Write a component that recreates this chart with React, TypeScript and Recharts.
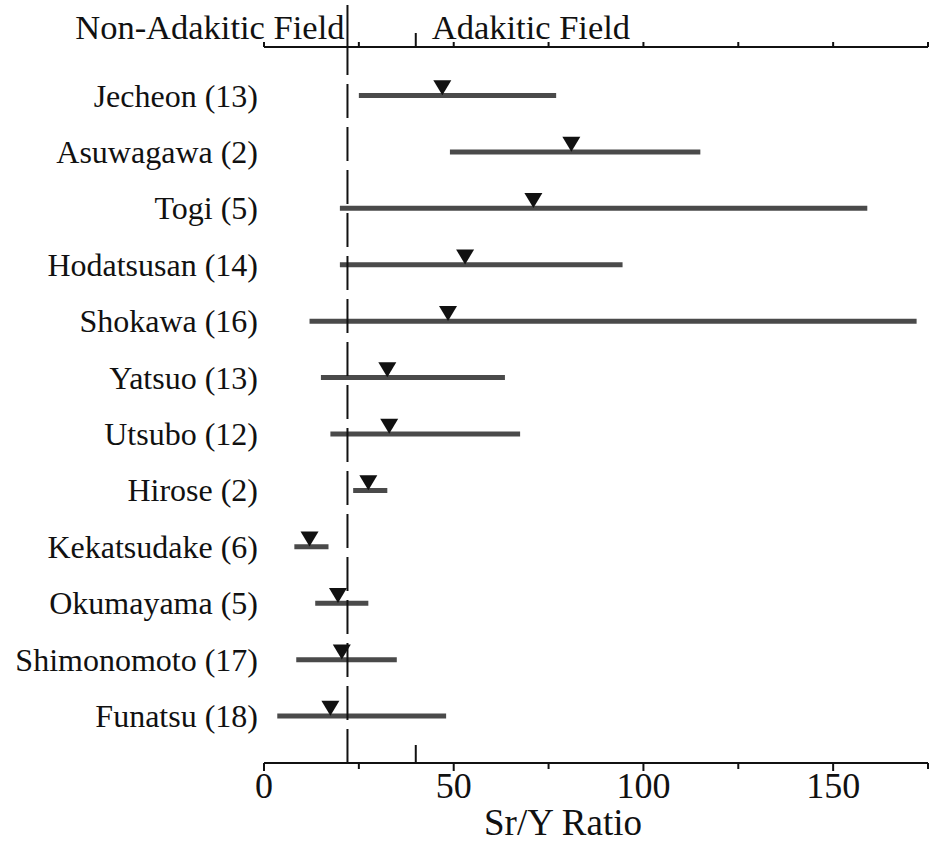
import { Bar, ComposedChart, Line, ReferenceLine, XAxis, YAxis } from "recharts";

const sites = [
  "Jecheon (13)",
  "Asuwagawa (2)",
  "Togi (5)",
  "Hodatsusan (14)",
  "Shokawa (16)",
  "Yatsuo (13)",
  "Utsubo (12)",
  "Hirose (2)",
  "Kekatsudake (6)",
  "Okumayama (5)",
  "Shimonomoto (17)",
  "Funatsu (18)",
];
const minRatio = [25, 49, 20, 20, 12, 15, 17.5, 23.5, 8, 13.5, 8.5, 3.5];
const maxRatio = [77, 115, 159, 94.5, 172, 63.5, 67.5, 32.5, 17, 27.5, 35, 48];
const meanRatio = [47, 81, 71, 53, 48.5, 32.5, 33, 27.5, 12, 19.5, 20.5, 17.5];

const axisTicks = [0, 25, 50, 75, 100, 125, 150, 175];
const labelled = [0, 50, 100, 150];
const divide = 22;
const threshold = 40;

const serif = "'Liberation Serif', 'DejaVu Serif', serif";

const rows = sites.map((name, i) => ({
  name,
  range: [minRatio[i], maxRatio[i]],
  mean: meanRatio[i],
}));

const TICK_SIZE = 6;
const TICK_MARGIN = 4;

function BottomTick(props: any) {
  const { x, y, payload } = props;
  const v = payload.value;
  const axisY = y - TICK_SIZE - TICK_MARGIN;
  if (v === divide) return <g />;
  if (v === threshold) {
    return <line x1={x} x2={x} y1={axisY} y2={axisY - 18} stroke="#111" strokeWidth={2} />;
  }
  const major = labelled.includes(v);
  return (
    <g>
      <line x1={x} x2={x} y1={axisY} y2={axisY + (major ? 8 : 6)} stroke="#111" strokeWidth={2} />
      {major && (
        <text x={x} y={axisY + 9} dy="0.71em" textAnchor="middle" fontSize={36} fontFamily={serif} fill="#111">
          {v}
        </text>
      )}
    </g>
  );
}

function TopTick(props: any) {
  const { x, y, payload } = props;
  const v = payload.value;
  const axisY = y + TICK_SIZE + TICK_MARGIN;
  if (v === divide) {
    return (
      <g>
        <line x1={x} x2={x} y1={axisY} y2={axisY - 42} stroke="#111" strokeWidth={2} />
        <text x={x - 3} y={axisY - 8} textAnchor="end" fontSize={34.5} fontFamily={serif} fill="#111">
          Non-Adakitic Field
        </text>
      </g>
    );
  }
  if (v === threshold) {
    return (
      <g>
        <line x1={x} x2={x} y1={axisY} y2={axisY - 14} stroke="#111" strokeWidth={2} />
        <text x={x + 16} y={axisY - 8} textAnchor="start" fontSize={34.5} fontFamily={serif} fill="#111">
          Adakitic Field
        </text>
      </g>
    );
  }
  return <line x1={x} x2={x} y1={axisY} y2={axisY - 5} stroke="#111" strokeWidth={2} />;
}

function Marker(props: any) {
  const { cx, cy } = props;
  if (cx == null || cy == null) return <g />;
  return <polygon points={`${cx - 9},${cy - 15} ${cx + 9},${cy - 15} ${cx},${cy}`} fill="#111" />;
}

export default function App() {
  return (
    <div style={{ position: "absolute", left: 0, top: 0, width: 931, height: 843, background: "#fff" }}>
      <ComposedChart
        width={931}
        height={843}
        data={rows}
        layout="vertical"
        margin={{ top: 0, right: 3, bottom: 0, left: 0 }}
      >
        <XAxis
          type="number"
          domain={[0, 175]}
          ticks={[...axisTicks, threshold]}
          interval={0}
          height={80}
          tickSize={TICK_SIZE}
          tickMargin={TICK_MARGIN}
          tickLine={false}
          tick={<BottomTick />}
          axisLine={{ stroke: "#111", strokeWidth: 2 }}
          label={{ value: "Sr/Y Ratio", position: "insideBottom", offset: 8, dx: -33, fontSize: 37, fontFamily: serif, fill: "#111" }}
        />
        <XAxis
          xAxisId="top"
          orientation="top"
          type="number"
          domain={[0, 175]}
          ticks={[...axisTicks, divide, threshold]}
          interval={0}
          height={47}
          tickSize={TICK_SIZE}
          tickMargin={TICK_MARGIN}
          tickLine={false}
          tick={<TopTick />}
          axisLine={{ stroke: "#111", strokeWidth: 2 }}
        />
        <YAxis
          type="category"
          dataKey="name"
          width={264}
          axisLine={false}
          tickLine={false}
          tickSize={0}
          tickMargin={6}
          interval={0}
          padding={{ top: 20, bottom: 19 }}
          tick={{ fontSize: 32, fontFamily: serif, fill: "#111" }}
        />
        <ReferenceLine x={divide} stroke="#111" strokeWidth={2} strokeDasharray="34 9" />
        <Bar dataKey="range" barSize={5} fill="#4a4a4a" isAnimationActive={false} />
        <Line
          dataKey="mean"
          stroke="none"
          dot={<Marker />}
          activeDot={false}
          legendType="none"
          isAnimationActive={false}
        />
        <Line
          xAxisId="top"
          dataKey="mean"
          stroke="none"
          dot={false}
          activeDot={false}
          legendType="none"
          isAnimationActive={false}
        />
      </ComposedChart>
    </div>
  );
}
